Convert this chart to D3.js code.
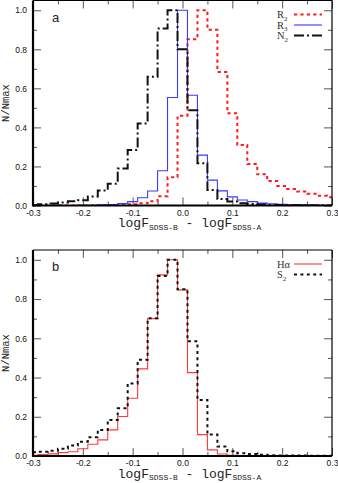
<!DOCTYPE html>
<html>
<head>
<meta charset="utf-8">
<script src="https://cdn.jsdelivr.net/npm/d3@7"></script>
<style>
body { margin: 0; background: #fff; }
svg { display: block; }
</style>
</head>
<body>
<svg id="chart" width="338" height="483"></svg>
<script>

// histogram bin centres (bin width 0.02)
const binCenters = [-0.30, -0.28, -0.26, -0.24, -0.22, -0.20, -0.18, -0.16, -0.14, -0.12, -0.10,
                    -0.08, -0.06, -0.04, -0.02, 0.00, 0.02, 0.04, 0.06, 0.08, 0.10,
                    0.12, 0.14, 0.16, 0.18, 0.20, 0.22, 0.24, 0.26, 0.28, 0.30];

// panel a
const r2 = [0, 0, 0, 0, 0, 0, 0, 0.001, 0.002, 0.003, 0.006,
            0.012, 0.022, 0.047, 0.145, 0.46, 0.852, 1.0, 0.90, 0.684, 0.472,
            0.31, 0.212, 0.16, 0.125, 0.10, 0.085, 0.072, 0.06, 0.05, 0.042];
const r3 = [0, 0, 0, 0, 0, 0.001, 0.001, 0.003, 0.005, 0.01, 0.02,
            0.04, 0.074, 0.178, 0.553, 1.0, 0.565, 0.258, 0.13, 0.075, 0.044,
            0.028, 0.02, 0.012, 0.009, 0.006, 0.004, 0.003, 0.002, 0.001, 0.001];
const n2 = [0.003, 0.007, 0.01, 0.015, 0.022, 0.027, 0.046, 0.077, 0.112, 0.19, 0.284,
            0.42, 0.659, 0.906, 1.0, 0.80, 0.488, 0.216, 0.08, 0.033, 0.02,
            0.012, 0.008, 0.005, 0.003, 0.002, 0.001, 0.001, 0, 0, 0];

// panel b
const halpha = [0.004, 0.008, 0.011, 0.017, 0.022, 0.037, 0.06, 0.082, 0.133, 0.201, 0.294,
                0.444, 0.70, 0.923, 1.0, 0.847, 0.425, 0.109, 0.031, 0.01, 0.003,
                0.002, 0.001, 0.001, 0, 0, 0, 0, 0, 0, 0];
const s2 = [0.019, 0.022, 0.027, 0.037, 0.053, 0.073, 0.095, 0.133, 0.184, 0.243, 0.37,
            0.49, 0.702, 0.918, 1.0, 0.85, 0.585, 0.286, 0.109, 0.048, 0.024,
            0.014, 0.01, 0.006, 0.004, 0.003, 0.002, 0.002, 0.001, 0.001, 0.001];

const xTicks = [-0.3, -0.2, -0.1, 0.0, 0.1, 0.2, 0.3];
const xMinor = [-0.25, -0.15, -0.05, 0.05, 0.15, 0.25];
const yTicks = [0.0, 0.2, 0.4, 0.6, 0.8, 1.0];
const yMinor = [0.1, 0.3, 0.5, 0.7, 0.9];

const svg = d3.select('#chart');
const left = 33, right = 332;
const mono = '"Courier New", "Liberation Mono", monospace';
const sans = '"Liberation Sans", Arial, Helvetica, sans-serif';
const serif = '"Liberation Serif", "Times New Roman", serif';

const styles = {
    r2: { color: '#ff1a1a', width: 2, dash: '3.2,3.2' },
    r3: { color: '#3a3aff', width: 1.1, dash: null },
    n2: { color: '#111', width: 2, dash: '10,3,2,3' },
    ha: { color: '#ff3838', width: 1.1, dash: null },
    s2: { color: '#111', width: 2, dash: '3,3.4' }
};

const panels = [
    { id: 'a', top: 0.5, bottom: 205.5,
      series: [ { name: 'R', sub: '2', values: r2, st: styles.r2 },
                { name: 'R', sub: '3', values: r3, st: styles.r3 },
                { name: 'N', sub: '2', values: n2, st: styles.n2 } ],
      order: [0, 1, 2] },
    { id: 'b', top: 250, bottom: 456,
      series: [ { name: 'H\u03b1', sub: '', values: halpha, st: styles.ha },
                { name: 'S', sub: '2', values: s2, st: styles.s2 } ],
      order: [0, 1] }
];

panels.forEach((p, pi) => {

    const x = d3.scaleLinear().domain([-0.3, 0.3]).range([left, right]);
    const y = d3.scaleLinear().domain([0, 1.05]).range([p.bottom, p.top]);

    const g = svg.append('g');

    g.append('clipPath').attr('id', 'clip' + pi)
        .append('rect')
        .attr('x', left).attr('y', p.top)
        .attr('width', right - left).attr('height', p.bottom - p.top);

    // ticks (inward on all four sides)
    const tickStyle = sel => {
        sel.select('.domain').remove();
        sel.selectAll('line').attr('stroke', '#555').attr('stroke-width', 1);
        sel.selectAll('text').attr('font-family', sans).attr('font-size', 8.5).attr('fill', '#111');
    };
    const fmt = d => d.toFixed(1);

    g.append('g').attr('transform', `translate(0,${p.bottom})`)
        .call(d3.axisBottom(x).tickValues(xTicks).tickSize(-8).tickPadding(4).tickFormat(fmt))
        .call(tickStyle);
    g.append('g').attr('transform', `translate(0,${p.bottom})`)
        .call(d3.axisBottom(x).tickValues(xMinor).tickSize(-4).tickFormat(''))
        .call(tickStyle);
    g.append('g').attr('transform', `translate(0,${p.top})`)
        .call(d3.axisTop(x).tickValues(xTicks).tickSize(-8).tickFormat(''))
        .call(tickStyle);
    g.append('g').attr('transform', `translate(0,${p.top})`)
        .call(d3.axisTop(x).tickValues(xMinor).tickSize(-4).tickFormat(''))
        .call(tickStyle);
    g.append('g').attr('transform', `translate(${left},0)`)
        .call(d3.axisLeft(y).tickValues(yTicks).tickSize(-8).tickPadding(6).tickFormat(fmt))
        .call(tickStyle);
    g.append('g').attr('transform', `translate(${left},0)`)
        .call(d3.axisLeft(y).tickValues(yMinor).tickSize(-4).tickFormat(''))
        .call(tickStyle);
    g.append('g').attr('transform', `translate(${right},0)`)
        .call(d3.axisRight(y).tickValues(yTicks).tickSize(-8).tickFormat(''))
        .call(tickStyle);
    g.append('g').attr('transform', `translate(${right},0)`)
        .call(d3.axisRight(y).tickValues(yMinor).tickSize(-4).tickFormat(''))
        .call(tickStyle);

    // histogram outlines
    const line = d3.line()
        .x((d, i) => x(binCenters[i]))
        .y(d => y(d))
        .curve(d3.curveStep);

    p.order.forEach(k => {
        const s = p.series[k];
        g.append('path')
            .attr('clip-path', `url(#clip${pi})`)
            .attr('d', line(s.values))
            .attr('fill', 'none')
            .attr('stroke', s.st.color)
            .attr('stroke-width', s.st.width)
            .attr('stroke-dasharray', s.st.dash);
    });

    // frame: heavy left and bottom, light top and right
    g.append('line').attr('x1', left).attr('x2', right).attr('y1', p.top).attr('y2', p.top)
        .attr('stroke', '#000').attr('stroke-width', 1.2);
    g.append('line').attr('x1', right).attr('x2', right).attr('y1', p.top).attr('y2', p.bottom)
        .attr('stroke', '#000').attr('stroke-width', 1.2);
    g.append('line').attr('x1', left).attr('x2', left).attr('y1', p.top).attr('y2', p.bottom + 1)
        .attr('stroke', '#000').attr('stroke-width', 2.2);
    g.append('line').attr('x1', left).attr('x2', right).attr('y1', p.bottom).attr('y2', p.bottom)
        .attr('stroke', '#000').attr('stroke-width', 2.2);

    // panel letter
    g.append('text')
        .attr('x', 52).attr('y', p.top + 21)
        .attr('font-family', sans).attr('font-size', 13)
        .attr('fill', '#222')
        .text(p.id);

    // legend
    p.series.forEach((s, i) => {
        const ly = p.top + 14 + i * 10.5;
        const t = g.append('text')
            .attr('x', 277).attr('y', ly + 3.5)
            .attr('font-family', serif).attr('font-size', 10.5)
            .attr('fill', '#333');
        t.append('tspan').text(s.name);
        if (s.sub) t.append('tspan').attr('font-size', 7).attr('dy', 2.5).text(s.sub);
        g.append('line')
            .attr('x1', 294).attr('x2', 322).attr('y1', ly).attr('y2', ly)
            .attr('stroke', s.st.color)
            .attr('stroke-width', s.st.width)
            .attr('stroke-dasharray', s.st.dash);
    });

    // axis titles
    const xl = g.append('text')
        .attr('x', (left + right) / 2 + 7).attr('y', p.bottom + 21.5)
        .attr('text-anchor', 'middle')
        .attr('font-family', mono).attr('font-size', 13)
        .attr('fill', '#222');
    xl.append('tspan').text('logF');
    xl.append('tspan').attr('font-size', 8).attr('dy', 2.5).text('SDSS-B');
    xl.append('tspan').attr('dy', -2.5).text(' - logF');
    xl.append('tspan').attr('font-size', 8).attr('dy', 2.5).text('SDSS-A');

    g.append('text')
        .attr('transform', `translate(9,${(p.top + p.bottom) / 2}) rotate(-90)`)
        .attr('text-anchor', 'middle')
        .attr('font-family', mono).attr('font-size', 10.5)
        .attr('fill', '#222')
        .text('N/Nmax');
});

</script>
</body>
</html>
